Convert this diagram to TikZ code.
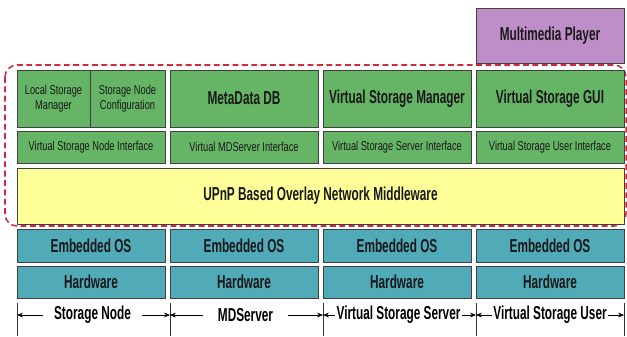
\documentclass[tikz,border=0pt]{standalone}
\usepackage{fontspec}
\usetikzlibrary{arrows.meta}
\newfontfamily\narrowsans[FakeStretch=0.63]{Liberation Sans}
\newfontfamily\slimsans[FakeStretch=0.72]{Liberation Sans}
\definecolor{layergreen}{RGB}{102,180,102}
\definecolor{layerteal}{RGB}{80,170,184}
\definecolor{layeryellow}{RGB}{255,255,153}
\definecolor{layerpurple}{RGB}{190,142,200}
\definecolor{regionred}{RGB}{214,40,60}
\begin{document}
\begin{tikzpicture}[x=0.03cm, y=-0.03cm, >={Stealth[length=5pt, width=4pt]},
  layer/.style={draw=black!75, line width=0.6pt, inner sep=0pt, minimum width=4.44cm, text=black!90, font=\narrowsans\bfseries\fontsize{16}{18}\selectfont},
  greenbox/.style={layer, fill=layergreen, minimum height=1.71cm},
  smallbox/.style={greenbox, font=\slimsans\fontsize{11}{13}\selectfont, align=center},
  ifacebox/.style={layer, fill=layergreen, minimum height=0.96cm, font=\slimsans\fontsize{11}{13}\selectfont},
  osbox/.style={layer, fill=layerteal, minimum height=0.99cm},
  hwbox/.style={layer, fill=layerteal, minimum height=0.96cm},
  span/.style={inner sep=0pt, font=\narrowsans\bfseries\fontsize{16}{18}\selectfont},
  region/.style={draw=regionred, line width=1.3pt, dash pattern=on 5pt off 3pt, rounded corners=0.36cm}]
\useasboundingbox (0,0) rectangle (627,336);
% dashed middleware region
\draw[region] (5,65) rectangle (626,226);
% application layer
\node[layer, fill=layerpurple, minimum height=1.65cm] (player) at (550,35.5) {Multimedia Player};
\node[smallbox, minimum width=2.19cm] (lsm) at (53.5,98.5) {Local Storage\\Manager};
\node[smallbox, minimum width=2.25cm] (snc) at (127.5,98.5) {Storage Node\\Configuration};
\node[greenbox] (mdb) at (244,98.5) {MetaData DB};
\node[greenbox] (vsm) at (397,98.5) {Virtual Storage Manager};
\node[greenbox] (gui) at (550,98.5) {Virtual Storage GUI};
% interfaces
\node[ifacebox] (ifnode) at (91,147) {Virtual Storage Node Interface};
\node[ifacebox] (ifmds) at (244,147) {Virtual MDServer Interface};
\node[ifacebox] (ifserver) at (397,147) {Virtual Storage Server Interface};
\node[ifacebox] (ifuser) at (550,147) {Virtual Storage User Interface};
% middleware
\node[layer, fill=layeryellow, minimum width=18.21cm, minimum height=1.68cm] (upnp) at (320.5,196) {UPnP Based Overlay Network Middleware};
% platform
\node[osbox] (os1) at (91,245.5) {Embedded OS};
\node[osbox] (os2) at (244,245.5) {Embedded OS};
\node[osbox] (os3) at (397,245.5) {Embedded OS};
\node[osbox] (os4) at (550,245.5) {Embedded OS};
\node[hwbox] (hw1) at (91,282) {Hardware};
\node[hwbox] (hw2) at (244,282) {Hardware};
\node[hwbox] (hw3) at (397,282) {Hardware};
\node[hwbox] (hw4) at (550,282) {Hardware};
% column spans
\draw[black!80, line width=0.6pt] (17,303) -- (17,336);
\draw[black!80, line width=0.6pt] (170,303) -- (170,336);
\draw[black!80, line width=0.6pt] (323,303) -- (323,336);
\draw[black!80, line width=0.6pt] (476,303) -- (476,336);
\draw[black!80, line width=0.6pt] (624,303) -- (624,336);
\coordinate (t0) at (17,315);
\coordinate (t1) at (170,315);
\coordinate (t2) at (323,315);
\coordinate (t3) at (476,315);
\coordinate (t4) at (624,315);
\node[span, minimum width=2.97cm] (span1) at (92.5,315) {Storage Node};
\node[span, minimum width=2.55cm] (span2) at (245.5,315) {MDServer};
\node[span, minimum width=3.81cm] (span3) at (398.5,315) {Virtual Storage Server};
\node[span, minimum width=3.48cm] (span4) at (550,315) {Virtual Storage User};
\draw[->] (span1.west) -- (t0);
\draw[->] (span1.east) -- (t1);
\draw[->] (span2.west) -- (t1);
\draw[->] (span2.east) -- (t2);
\draw[->] (span3.west) -- (t2);
\draw[->] (span3.east) -- (t3);
\draw[->] (span4.west) -- (t3);
\draw[->] (span4.east) -- (t4);
\end{tikzpicture}
\end{document}
